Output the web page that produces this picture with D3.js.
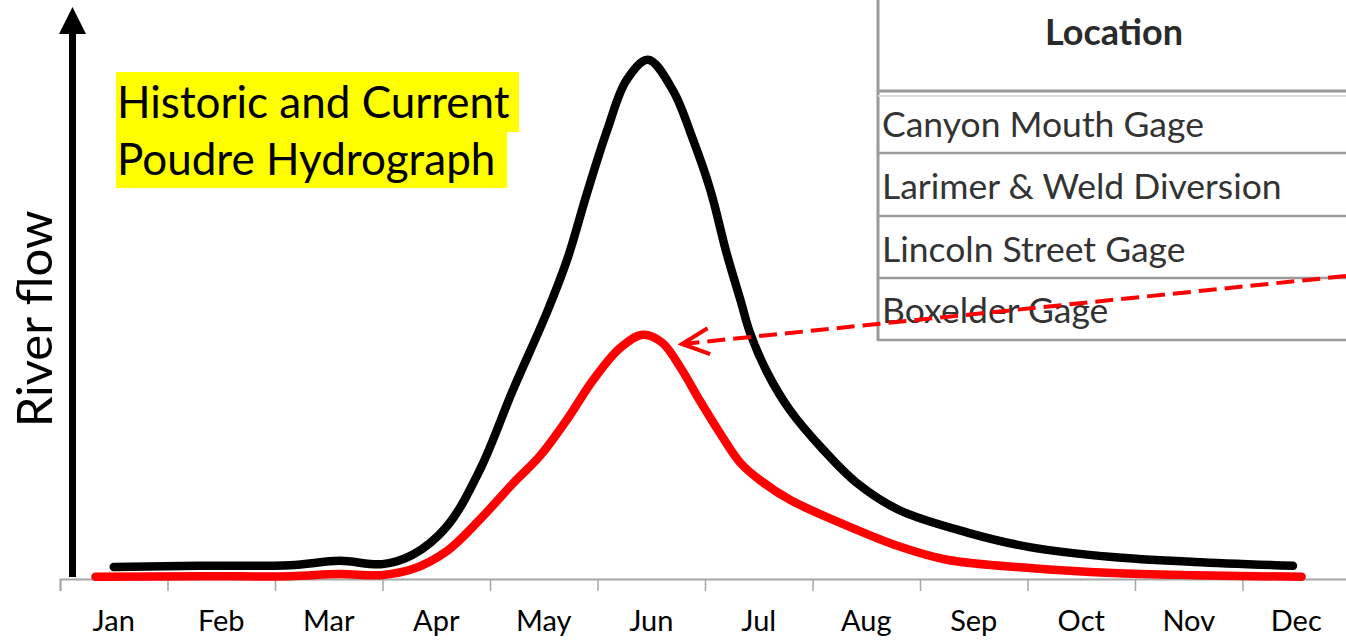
<!DOCTYPE html>
<html>
<head>
<meta charset="utf-8">
<script src="https://cdn.jsdelivr.net/npm/d3@7"></script>
<style>
  html, body { margin: 0; padding: 0; background: #fff; }
  svg { display: block; }
  text { font-family: Lato, "Open Sans", sans-serif; }
</style>
</head>
<body>
<svg id="chart" width="1346" height="641"></svg>
<script>
// ---------------- DATA ----------------
const months = ["Jan","Feb","Mar","Apr","May","Jun","Jul","Aug","Sep","Oct","Nov","Dec"];

// Historic hydrograph (black): position in months (0 = start of Jan), relative flow
const historicMonth = [0.50,1.30,2.14,2.60,3.00,3.28,3.60,3.91,4.21,4.53,4.72,4.90,5.09,5.27,5.47,5.70,5.89,6.05,6.20,6.33,6.42,6.58,6.79,7.10,7.41,7.81,8.45,9.02,9.79,10.55,11.47];
const historicFlow  = [2.2,2.4,2.5,3.3,2.7,4.4,9.6,20.0,34.2,48.5,58.2,70.0,81.6,90.7,94.4,88.9,79.8,70.7,59.3,50.7,44.7,37.5,30.7,23.5,17.5,12.5,8.4,5.8,4.0,3.1,2.4];

// Current hydrograph (red)
const currentMonth = [0.33,1.30,2.14,2.60,2.98,3.28,3.60,3.91,4.21,4.47,4.72,4.96,5.21,5.42,5.60,5.77,5.95,6.14,6.33,6.51,6.79,7.26,7.81,8.25,9.02,9.79,10.55,11.55];
const currentFlow  = [0.4,0.5,0.5,0.9,0.7,1.8,5.1,10.9,17.3,22.5,29.1,36.2,42.0,44.4,43.0,38.5,32.5,26.5,21.1,18.0,14.4,10.2,5.9,3.5,2.0,1.1,0.7,0.4];

const titleLines = ["Historic and Current", "Poudre Hydrograph"];
const yLabel = "River flow";
const tableHeader = "Location";
const tableRows = ["Canyon Mouth Gage","Larimer & Weld Diversion","Lincoln Street Gage","Boxelder Gage"];

// ---------------- CHART ----------------
const svg = d3.select("#chart");

const x = d3.scaleLinear().domain([0, 12]).range([60, 1350]);
const xBand = d3.scaleBand().domain(months).range([60, 1350]).paddingInner(0);
const y = d3.scaleLinear().domain([0, 100]).range([579, 29]);

// Table (in background)
const tbl = svg.append("g");
const tLeft = 878, tRight = 1346;
const rowLines = [153, 216, 278, 340];
tbl.append("line").attr("x1", tLeft).attr("x2", tLeft).attr("y1", 0).attr("y2", 341)
  .attr("stroke", "#9a9a9a").attr("stroke-width", 3);
tbl.append("line").attr("x1", tLeft).attr("x2", tRight).attr("y1", 91).attr("y2", 91)
  .attr("stroke", "#9a9a9a").attr("stroke-width", 3);
tbl.append("line").attr("x1", tLeft).attr("x2", tRight).attr("y1", 96).attr("y2", 96)
  .attr("stroke", "#dddddd").attr("stroke-width", 2);
tbl.selectAll("line.row").data(rowLines).join("line").attr("class","row")
  .attr("x1", tLeft).attr("x2", tRight).attr("y1", d => d).attr("y2", d => d)
  .attr("stroke", "#9a9a9a").attr("stroke-width", 2.5);
tbl.append("text").attr("x", 1114).attr("y", 45).attr("text-anchor", "middle")
  .attr("font-weight", "bold").attr("font-size", 36).attr("fill", "#2a2a2a").text(tableHeader);
const rowBase = [137, 199, 262, 323];
tbl.selectAll("text.row").data(tableRows).join("text").attr("class","row")
  .attr("x", 882).attr("y", (d, i) => rowBase[i])
  .attr("font-size", 35.5).attr("fill", "#333").text(d => d);

// Title with yellow highlight
const tg = svg.append("g");
tg.append("rect").attr("x", 116).attr("y", 72).attr("width", 403).attr("height", 60).attr("fill", "#ffff00");
tg.append("rect").attr("x", 116).attr("y", 131).attr("width", 391).attr("height", 57).attr("fill", "#ffff00");
tg.selectAll("text").data(titleLines).join("text")
  .attr("x", 117).attr("y", (d, i) => 118 + i * 57)
  .attr("font-size", 44).attr("fill", "#000").text(d => d);

// X axis: baseline + ticks at month boundaries
const axisG = svg.append("g").attr("transform", "translate(0,579)");
axisG.call(d3.axisBottom(x).tickValues(d3.range(13)).tickSize(12).tickFormat(""))
  .call(g => g.select(".domain").attr("stroke", "#a6a6a6").attr("stroke-width", 2))
  .call(g => g.selectAll(".tick line").attr("stroke", "#a6a6a6").attr("stroke-width", 1.5));
const labG = svg.append("g").attr("transform", "translate(0,579)");
labG.call(d3.axisBottom(xBand).tickSize(0).tickPadding(31))
  .call(g => g.select(".domain").remove())
  .call(g => g.selectAll("text").attr("font-family", "Lato, sans-serif").attr("font-size", 29).attr("fill", "#000"));

// Y axis arrow
svg.append("line").attr("x1", 72.5).attr("x2", 72.5).attr("y1", 30).attr("y2", 577)
  .attr("stroke", "#000").attr("stroke-width", 7);
svg.append("path").attr("d", "M72.5,7 L86,34 L59,34 Z").attr("fill", "#000");
svg.append("text").attr("transform", "translate(52,319) rotate(-90)")
  .attr("text-anchor", "middle").attr("font-size", 49).attr("fill", "#000").text(yLabel);

// Curves
const line = d3.line().x(d => x(d[0])).y(d => y(d[1])).curve(d3.curveCatmullRom.alpha(0.5));
svg.append("path").datum(d3.zip(historicMonth, historicFlow)).attr("d", line)
  .attr("fill", "none").attr("stroke", "#000").attr("stroke-width", 8.5)
  .attr("stroke-linecap", "round").attr("stroke-linejoin", "round");
svg.append("path").datum(d3.zip(currentMonth, currentFlow)).attr("d", line)
  .attr("fill", "none").attr("stroke", "#ff0000").attr("stroke-width", 8.5)
  .attr("stroke-linecap", "round").attr("stroke-linejoin", "round");

// Dashed red pointer arrow
const defs = svg.append("defs");
defs.append("marker").attr("id", "head").attr("viewBox", "-32 -16 36 32")
  .attr("refX", 0).attr("refY", 0).attr("markerWidth", 36).attr("markerHeight", 32)
  .attr("markerUnits", "userSpaceOnUse").attr("orient", "auto")
  .append("path").attr("d", "M-27,-13 L0,0 L-27,13").attr("fill", "none")
  .attr("stroke", "#ff0000").attr("stroke-width", 4).attr("stroke-linejoin", "miter");
svg.append("line").attr("x1", 1346).attr("y1", 276).attr("x2", 682).attr("y2", 344)
  .attr("stroke", "#ff0000").attr("stroke-width", 4).attr("stroke-dasharray", "18 8")
  .attr("marker-end", "url(#head)");
</script>
</body>
</html>
